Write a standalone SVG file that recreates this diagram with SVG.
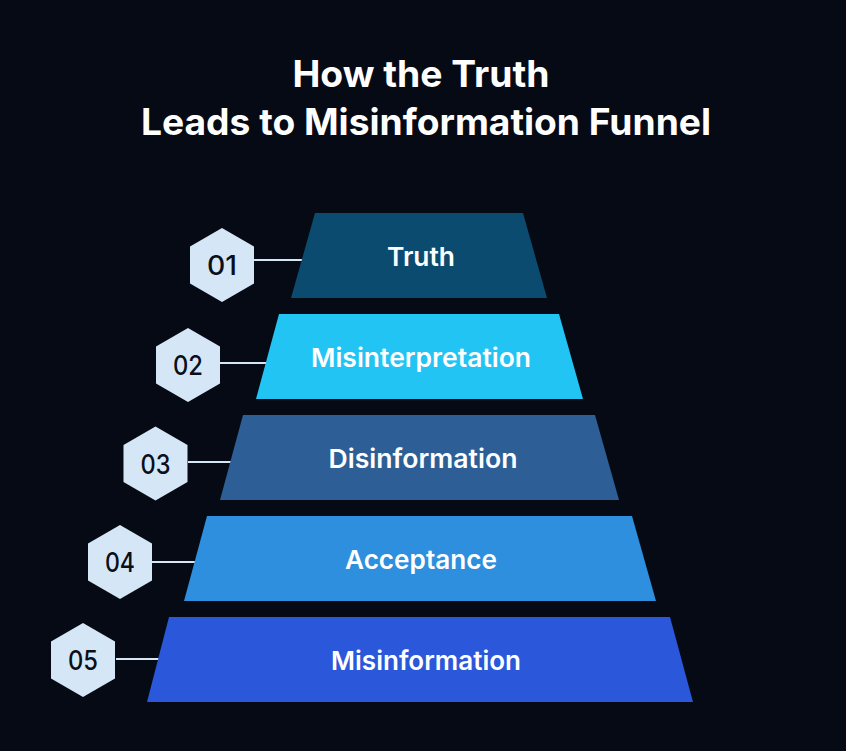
<svg xmlns="http://www.w3.org/2000/svg" width="846" height="751" viewBox="0 0 846 751">
<defs>
<style>
.title{font-family:Inter,"Liberation Sans",sans-serif;font-weight:700;font-size:37px;fill:#ffffff;text-anchor:middle}
.lbl{font-family:Inter,"Liberation Sans",sans-serif;font-weight:600;font-size:26px;fill:#ffffff;text-anchor:middle}
.num{font-family:Inter,"Liberation Sans",sans-serif;font-weight:500;font-size:27px;fill:#0a0f1a;text-anchor:middle}
.hex{fill:#d5e7f7}
.conn{stroke:#d5e7f7;stroke-width:2;fill:none}
</style>
<polygon id="hexshape" points="0,-37 32,-18.5 32,18.5 0,37 -32,18.5 -32,-18.5"/>
</defs>
<rect width="846" height="751" fill="#050a14"/>
<text class="title" x="421" y="87" textLength="257" lengthAdjust="spacingAndGlyphs">How the Truth</text>
<text class="title" x="426" y="135" textLength="570" lengthAdjust="spacingAndGlyphs">Leads to Misinformation Funnel</text>
<g id="connectors">
<line class="conn" x1="254" y1="260" x2="302" y2="260"/>
<line class="conn" x1="220" y1="363" x2="269" y2="363"/>
<line class="conn" x1="188" y1="462" x2="234" y2="462"/>
<line class="conn" x1="152" y1="562" x2="196" y2="562"/>
<line class="conn" x1="116" y1="659" x2="160" y2="659"/>
</g>
<g id="level1">
<polygon points="315,213 523,213 547,298 291,298" fill="#0b4b70"/>
<text class="lbl" x="421" y="266" textLength="68" lengthAdjust="spacingAndGlyphs">Truth</text>
</g>
<g id="level2">
<polygon points="279,314 559,314 583,399 256,399" fill="#22c4f4"/>
<text class="lbl" x="421" y="367" textLength="220" lengthAdjust="spacingAndGlyphs">Misinterpretation</text>
</g>
<g id="level3">
<polygon points="243,415 595,415 619,500 220,500" fill="#2d5f96"/>
<text class="lbl" x="423" y="468" textLength="189" lengthAdjust="spacingAndGlyphs">Disinformation</text>
</g>
<g id="level4">
<polygon points="207,516 632,516 656,601 184,601" fill="#2d8fdd"/>
<text class="lbl" x="421" y="569" textLength="152" lengthAdjust="spacingAndGlyphs">Acceptance</text>
</g>
<g id="level5">
<polygon points="169,617 670,617 693,702 147,702" fill="#2b57da"/>
<text class="lbl" x="426" y="670" textLength="190" lengthAdjust="spacingAndGlyphs">Misinformation</text>
</g>
<g id="badge1"><use href="#hexshape" class="hex" x="222" y="265"/><text class="num" x="222" y="275" textLength="30" lengthAdjust="spacingAndGlyphs">01</text></g>
<g id="badge2"><use href="#hexshape" class="hex" x="188" y="365"/><text class="num" x="188" y="375" textLength="30" lengthAdjust="spacingAndGlyphs">02</text></g>
<g id="badge3"><use href="#hexshape" class="hex" x="155.5" y="463.5"/><text class="num" x="155.5" y="473.5" textLength="30" lengthAdjust="spacingAndGlyphs">03</text></g>
<g id="badge4"><use href="#hexshape" class="hex" x="120" y="562"/><text class="num" x="120" y="572" textLength="30" lengthAdjust="spacingAndGlyphs">04</text></g>
<g id="badge5"><use href="#hexshape" class="hex" x="83" y="660"/><text class="num" x="83" y="670" textLength="30" lengthAdjust="spacingAndGlyphs">05</text></g>
</svg>
